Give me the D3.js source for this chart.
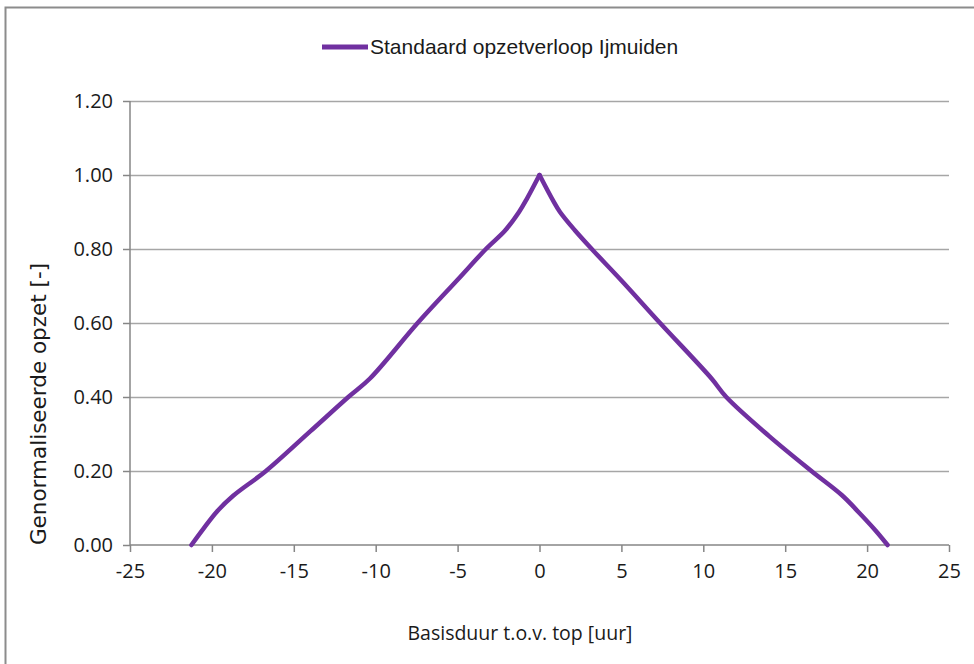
<!DOCTYPE html>
<html>
<head>
<meta charset="utf-8">
<script src="https://cdn.jsdelivr.net/npm/d3@7/dist/d3.min.js"></script>
<style>
  html, body { margin: 0; padding: 0; background: #fff; }
  svg { display: block; }
</style>
</head>
<body>
<script>
// ---- data ----
const seriesName = "Standaard opzetverloop Ijmuiden";
const xValues = [-21.25, -20.5, -19.7, -18.7, -16.7, -14.0, -11.67, -10.35, -7.44, -5.0, -3.27, -2.1, -1.25, -0.78, 0,
                 0.84, 1.25, 2.17, 3.19, 5.0, 7.36, 10.5, 11.4, 14.0, 16.6, 18.45, 19.5, 20.5, 21.25];
const yValues = [0.0, 0.045, 0.09, 0.133, 0.20, 0.307, 0.40, 0.45, 0.60, 0.717, 0.80, 0.85, 0.90, 0.935, 1.0,
                 0.93, 0.90, 0.85, 0.80, 0.715, 0.60, 0.45, 0.40, 0.295, 0.20, 0.135, 0.088, 0.04, 0.0];
const xTicks = [-25, -20, -15, -10, -5, 0, 5, 10, 15, 20, 25];
const yTicks = [0, 0.2, 0.4, 0.6, 0.8, 1.0, 1.2];
const xTitle = "Basisduur t.o.v. top [uur]";
const yTitle = "Genormaliseerde opzet [-]";

const W = 974, H = 664;
const svg = d3.select("body").append("svg").attr("width", W).attr("height", H);

// chart border
svg.append("path").attr("d", `M5.5,${H} L5.5,7.5 L${W},7.5`)
  .attr("fill", "none").attr("stroke", "#8c8c8c").attr("stroke-width", 2);

const x = d3.scaleLinear().domain([-25, 25]).range([130, 949]);
const y = d3.scaleLinear().domain([0, 1.2]).range([545, 101]);

// gridlines
svg.append("g").selectAll("line").data(yTicks.filter(d => d > 0)).join("line")
  .attr("x1", x(-25)).attr("x2", x(25))
  .attr("y1", d => Math.round(y(d)) + 0.5).attr("y2", d => Math.round(y(d)) + 0.5)
  .attr("stroke", "#a6a6a6").attr("stroke-width", 1.5);

const tickFont = "Open Sans, sans-serif";

// y axis
const yAxis = d3.axisLeft(y).tickValues(yTicks).tickFormat(d => d.toFixed(2)).tickSize(7).tickPadding(10);
const gy = svg.append("g").attr("transform", `translate(${x(-25)},0)`).call(yAxis);
// x axis
const xAxis = d3.axisBottom(x).tickValues(xTicks).tickFormat(d => String(d)).tickSize(7).tickPadding(12);
const gx = svg.append("g").attr("transform", `translate(0,${y(0)})`).call(xAxis);

[gx, gy].forEach(g => {
  g.select(".domain").attr("stroke", "#868686").attr("stroke-width", 1.5);
  g.selectAll(".tick line").attr("stroke", "#868686").attr("stroke-width", 1.5);
  g.selectAll(".tick text").attr("fill", "#1a1a1a")
    .style("font-family", tickFont).style("font-size", "20px");
});
gx.select(".domain").attr("d", `M${x(-25)},0H${x(25)}`);
gy.select(".domain").attr("d", `M0,${y(0)}V${y(1.2)}`);

// line: smoothed on each flank, sharp at the peak
const pts = xValues.map((xv, i) => [xv, yValues[i]]);
const peakIdx = yValues.indexOf(d3.max(yValues));
const line = d3.line().x(d => x(d[0])).y(d => y(d[1])).curve(d3.curveCatmullRom.alpha(0.5));
svg.append("g").selectAll("path")
  .data([pts.slice(0, peakIdx + 1), pts.slice(peakIdx)]).join("path")
  .attr("d", line)
  .attr("fill", "none").attr("stroke", "#7030a0").attr("stroke-width", 4.5)
  .attr("stroke-linejoin", "round").attr("stroke-linecap", "round");

// legend
svg.append("line").attr("x1", 322).attr("x2", 368).attr("y1", 47).attr("y2", 47)
  .attr("stroke", "#7030a0").attr("stroke-width", 5);
svg.append("text").attr("x", 370).attr("y", 47).attr("dy", "0.35em")
  .style("font-family", "Liberation Sans Narrow, Arial Narrow, sans-serif").style("font-size", "21px")
  .attr("fill", "#1a1a1a").text(seriesName);

// axis titles
svg.append("text").attr("x", 520).attr("y", 633).attr("dy", "0.35em").attr("text-anchor", "middle")
  .style("font-family", tickFont).style("font-size", "19.5px").attr("fill", "#1a1a1a").text(xTitle);
svg.append("text").attr("transform", `translate(38,404) rotate(-90)`).attr("dy", "0.35em")
  .attr("text-anchor", "middle")
  .style("font-family", "DejaVu Sans, sans-serif").style("font-size", "21.5px").attr("fill", "#1a1a1a").text(yTitle);
</script>
</body>
</html>
